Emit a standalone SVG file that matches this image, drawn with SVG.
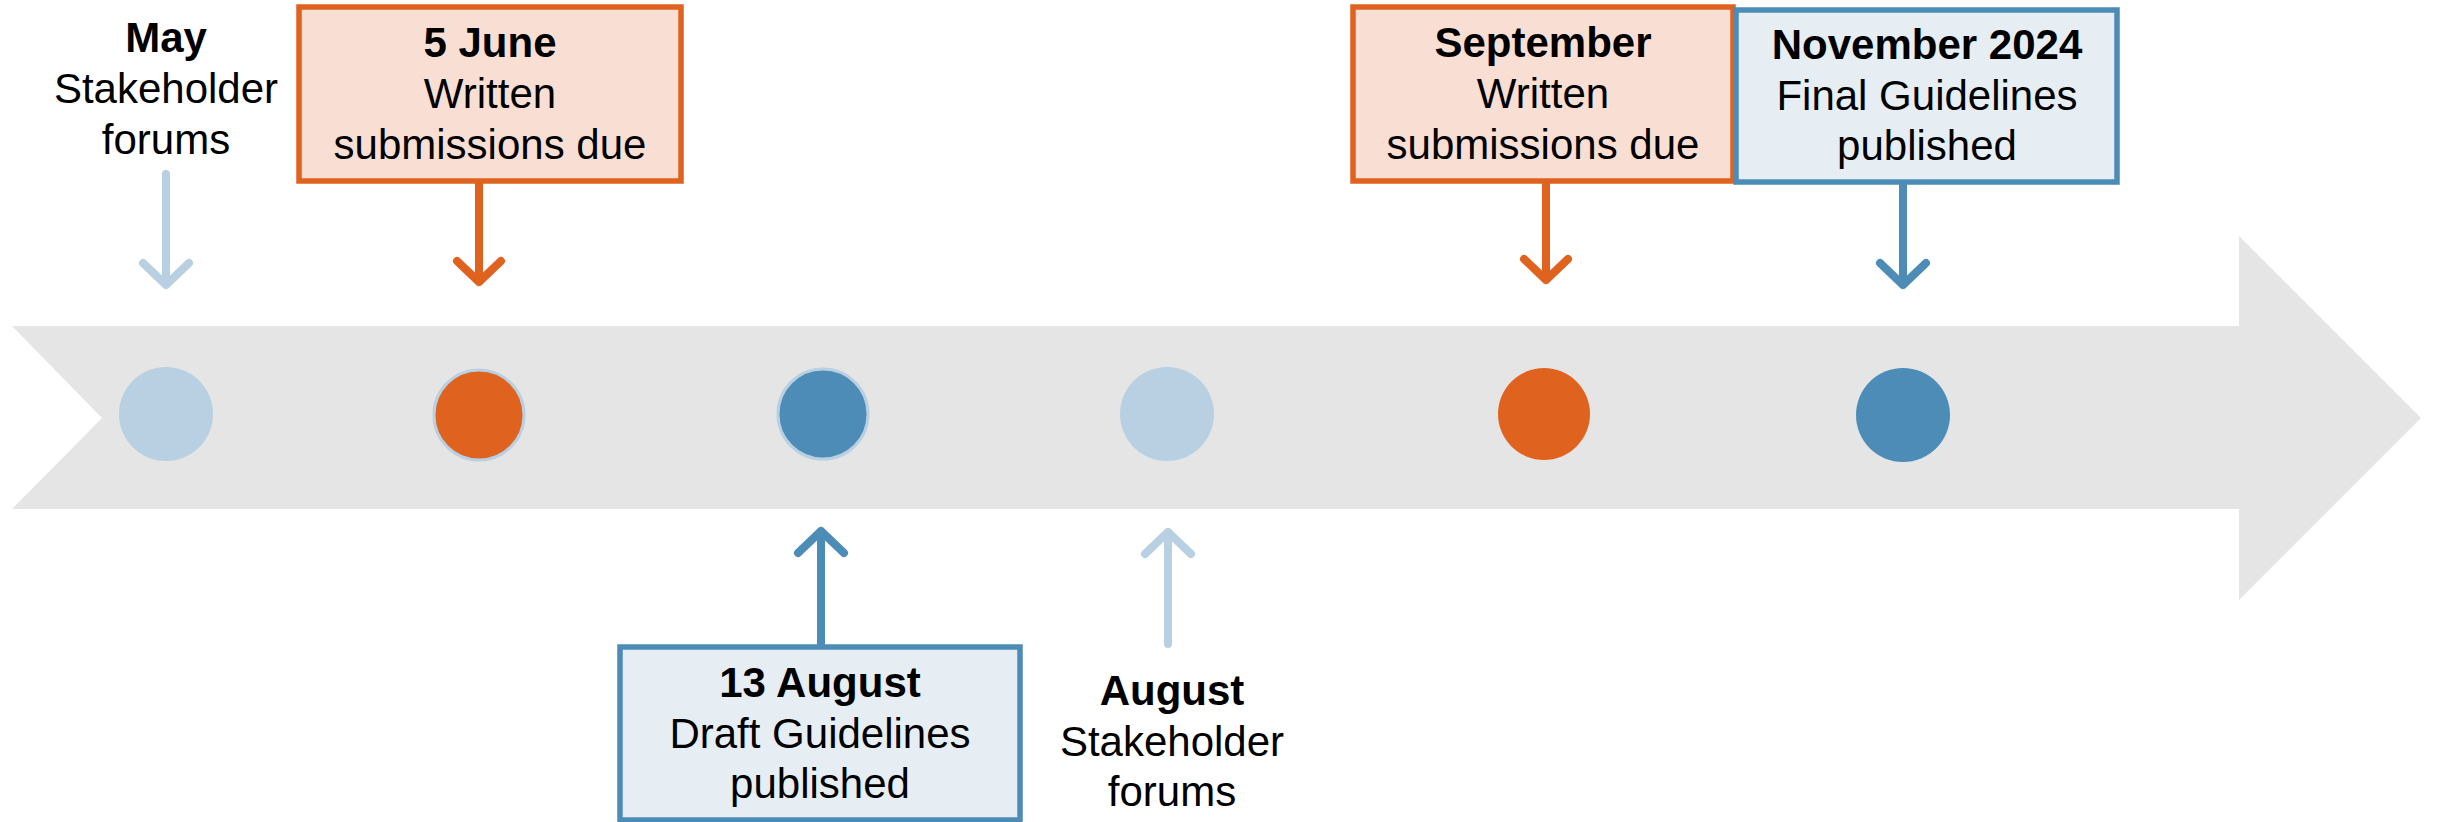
<svg xmlns="http://www.w3.org/2000/svg" width="2437" height="822" viewBox="0 0 2437 822">
  <style>
    text { font-family: "Liberation Sans", Arial, sans-serif; font-size: 42px; fill: #000; text-anchor: middle; }
    .b { font-weight: bold; }
    .box-or { fill: #f9dfd3; stroke: #e0621f; stroke-width: 5.5; }
    .box-bl { fill: #e6eef4; stroke: #4c8cb7; stroke-width: 5.5; }
    .conn { fill: none; stroke-width: 8; stroke-linecap: round; stroke-linejoin: round; }
    .c-or { stroke: #e0621f; }
    .c-bl { stroke: #4c8cb7; }
    .c-lt { stroke: #b8d0e2; }
    .dot-lt { fill: #b8d0e2; }
    .dot-or { fill: #e0621f; }
    .dot-bl { fill: #4c8cb7; }
    .ring { stroke: #b8d0e2; stroke-width: 3; }
  </style>

  <!-- timeline band -->
  <g id="timeline">
    <polygon points="12,326 2239,326 2239,236 2421,418 2239,600 2239,509 12,509 102,418" fill="#e5e5e5"/>
    <circle cx="166" cy="414" r="47" class="dot-lt"/>
    <circle cx="479" cy="415" r="45" class="dot-or ring"/>
    <circle cx="823" cy="414" r="45" class="dot-bl ring"/>
    <circle cx="1167" cy="414" r="47" class="dot-lt"/>
    <circle cx="1544" cy="414" r="46" class="dot-or"/>
    <circle cx="1903" cy="415" r="47" class="dot-bl"/>
  </g>

  <!-- connectors -->
  <g id="connectors">
    <path class="conn c-lt" d="M166,174 V285 M143,263 L166,285 L189,263"/>
    <path class="conn c-or" d="M479,184 V282 M457,261 L479,282 L501,261"/>
    <path class="conn c-bl" d="M821,644 V531 M798,553 L821,531 L844,553"/>
    <path class="conn c-lt" d="M1168,644 V532 M1145,554 L1168,532 L1191,554"/>
    <path class="conn c-or" d="M1546,184 V280 M1524,259 L1546,280 L1568,259"/>
    <path class="conn c-bl" d="M1903,185 V285 M1880,263 L1903,285 L1926,263"/>
  </g>

  <g id="may">
    <text x="166" y="52" class="b">May</text>
    <text x="166" y="103">Stakeholder</text>
    <text x="166" y="154">forums</text>
  </g>

  <g id="june">
    <rect x="299" y="7" width="382" height="174" class="box-or"/>
    <text x="490" y="57" class="b">5 June</text>
    <text x="490" y="108">Written</text>
    <text x="490" y="159">submissions due</text>
  </g>

  <g id="draft">
    <rect x="620" y="647" width="400" height="173" class="box-bl"/>
    <text x="820" y="697" class="b">13 August</text>
    <text x="820" y="748">Draft Guidelines</text>
    <text x="820" y="798">published</text>
  </g>

  <g id="august">
    <text x="1172" y="705" class="b">August</text>
    <text x="1172" y="756">Stakeholder</text>
    <text x="1172" y="806">forums</text>
  </g>

  <g id="september">
    <rect x="1353" y="7" width="380" height="174" class="box-or"/>
    <text x="1543" y="57" class="b">September</text>
    <text x="1543" y="108">Written</text>
    <text x="1543" y="159">submissions due</text>
  </g>

  <g id="november">
    <rect x="1736" y="10" width="381" height="172" class="box-bl"/>
    <text x="1927" y="59" class="b">November 2024</text>
    <text x="1927" y="110">Final Guidelines</text>
    <text x="1927" y="160">published</text>
  </g>
</svg>
